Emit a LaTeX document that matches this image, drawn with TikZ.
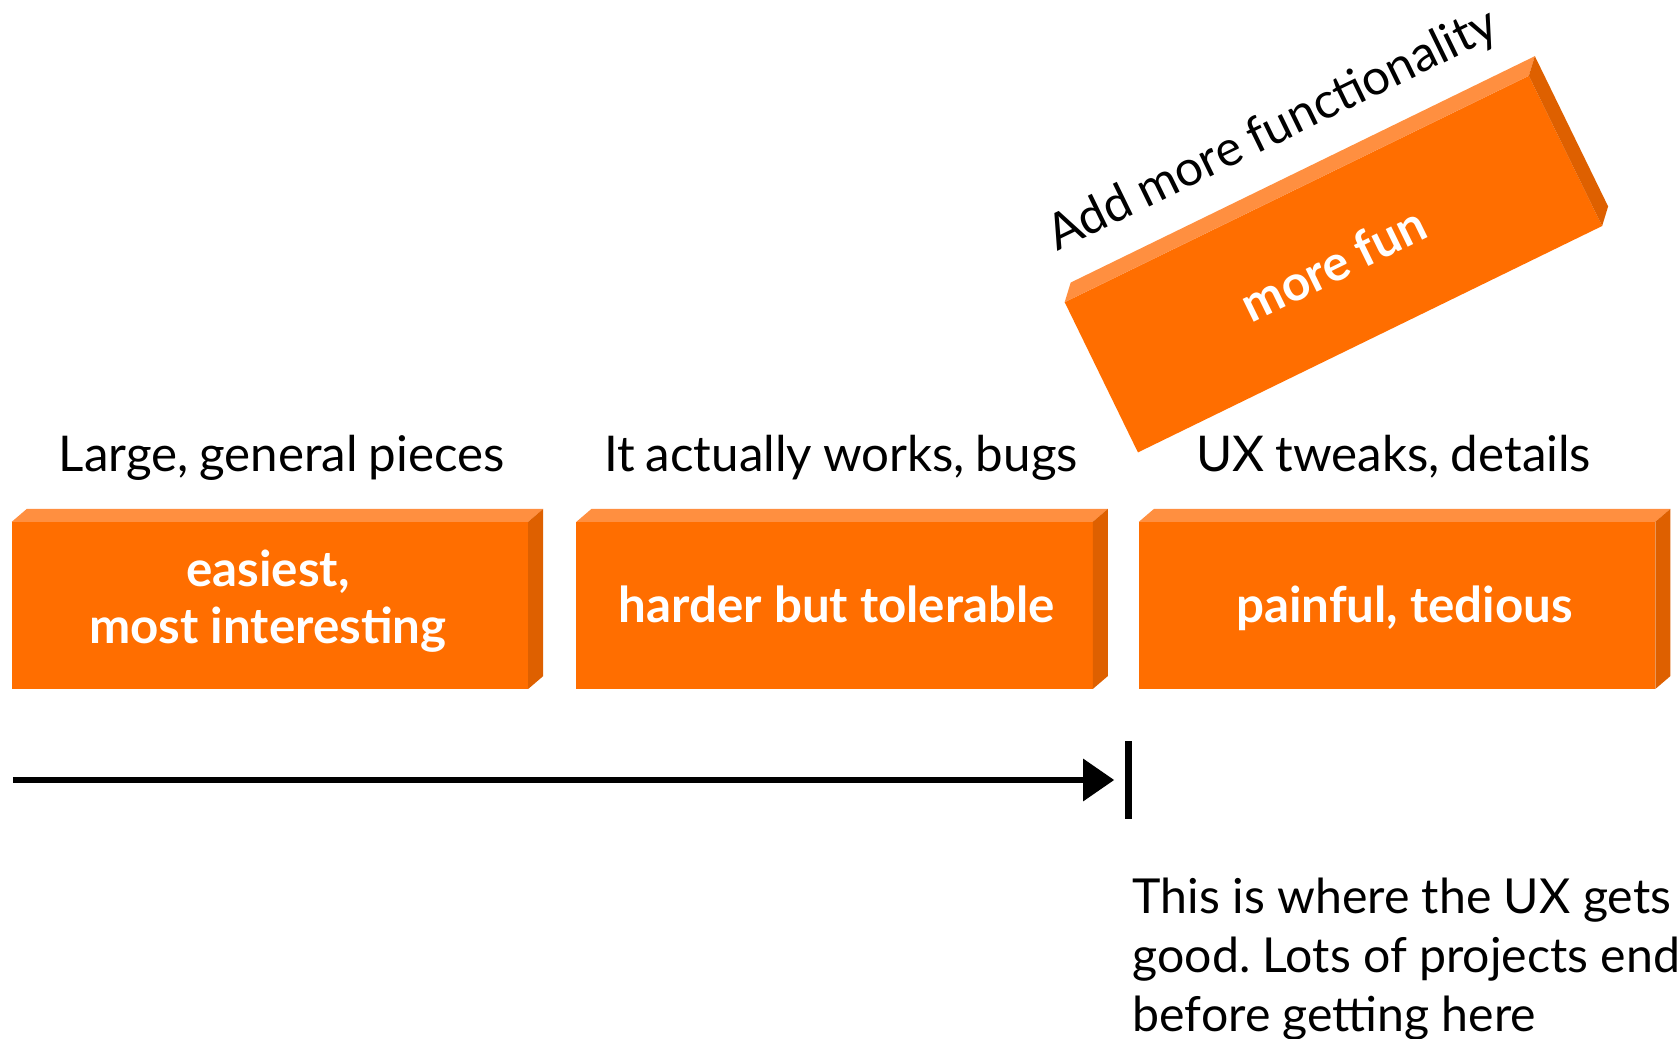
\documentclass[tikz,border=0pt]{standalone}
\usepackage{fontspec}
\setmainfont{Lato}
\usetikzlibrary{calc,arrows.meta}
\definecolor{ofront}{HTML}{FF6E00}
\definecolor{otop}{HTML}{FF8F40}
\definecolor{oside}{HTML}{DE6000}
\newcommand\slabfaces[3]{%
  \fill[otop] (#1.north west) -- ++(#2,#3) -- ($(#1.north east)+(#2,#3)$) -- (#1.north east) -- cycle;
  \fill[oside] (#1.north east) -- ++(#2,#3) -- ($(#1.south east)+(#2,#3)$) -- (#1.south east) -- cycle;}
\newcommand\tightsp{\frenchspacing\spaceskip=0.22em plus 0.05em minus 0.03em\relax}
\newcommand\lblfont{\fontsize{46}{55}\selectfont\tightsp}
\newcommand\notefont{\fontsize{45}{55}\selectfont\frenchspacing}
\begin{document}
\begin{tikzpicture}[x=1pt,y=1pt,
  slab/.style={rectangle,fill=ofront,minimum width=482pt,minimum height=156pt,inner sep=0pt,outer sep=0pt,text=white,font=\fontsize{46}{53}\selectfont\bfseries,align=center},
  slabtext/.style={inner sep=0pt,text=white,font=\fontsize{46}{53}\selectfont\bfseries,align=center},
  lbl/.style={font=\lblfont,inner sep=0pt,anchor=base},
  bar/.style={line width=6.5pt},
]
\useasboundingbox (0,0) rectangle (1568,969);
\fill[white] (0,0) rectangle (1568,969);

% boxes
\node[slab] (b1) at (252,404) {};
\node[slab] (b2) at (779,404) {};
\node[slab] (b3) at (1304,404) {};
\slabfaces{b1}{14}{12}
\slabfaces{b2}{14}{12}
\slabfaces{b3}{14}{12}
\node[slabtext,anchor=center] (t1) at (250,408) {easiest,\\most interesting};
\node[slabtext,anchor=base] (t2) at (781,388) {harder but tolerable};
\node[slabtext,anchor=base] (t3) at (1311,388) {painful, tedious};

% rotated box
\node[slab,rotate=26] (b4) at (1244.5,722.5) {more fun};
\slabfaces{b4}{5.6}{18.3}

% labels
\node[lbl] (l1) at (263,529) {Large, general pieces};
\node[lbl] (l2) at (785,529) {It actually works, bugs};
\node[lbl] (l3) at (1301,529) {UX tweaks, details};
\node[lbl,anchor=center,rotate=26] (l4) at ($(b4.center)+(-56.2,124.4)$) {Add more functionality};

% arrow
\coordinate (as) at (12,241);
\coordinate (ae) at (1040,241);
\draw[bar,-{Triangle[length=29pt,width=38pt]}] (as) -- (ae);
\coordinate (bt) at (1053,277);
\coordinate (bb) at (1053,205);
\draw[bar] (bt) -- (bb);

% note
\node[lbl,font=\notefont,align=left,anchor=north west] (note) at (1057,150)
  {This is where the UX gets\\good. Lots of projects end\\before getting here};
\end{tikzpicture}
\end{document}
